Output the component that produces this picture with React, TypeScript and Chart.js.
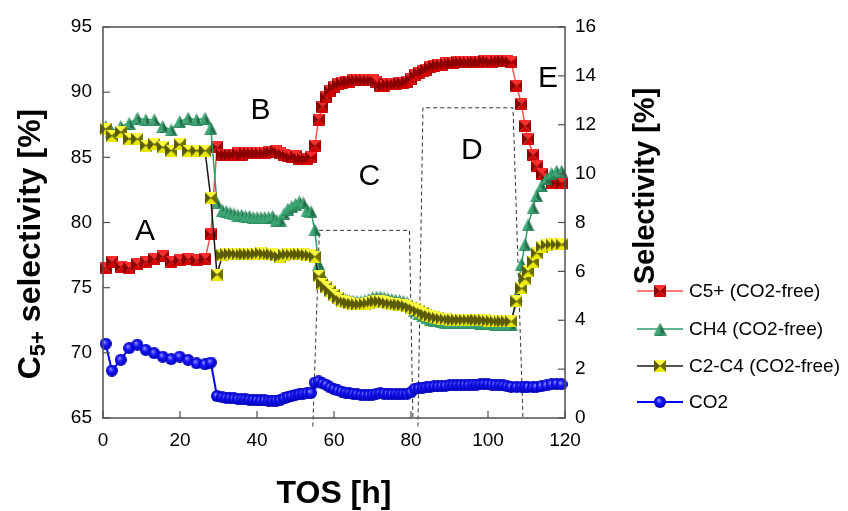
import React, { useEffect, useRef } from "react";
import { Chart, registerables } from "chart.js";
Chart.register(...registerables);

const FONT = "'Liberation Sans', Arial, sans-serif";

// time on stream [h]
const tos = [
  0.7, 2.3, 4.6, 6.8, 8.9, 11.1, 13.3, 15.5, 17.7, 19.9, 22.1, 24.3, 26.5, 28.0,
  29.6, 31, 32, 33, 34, 35, 36, 37, 38, 39, 40, 41, 42, 43, 44, 45, 46, 47, 48, 49, 50, 51, 52, 53, 54, 55,
  56, 57, 58, 59, 60, 61, 62, 63, 64, 65,
  66, 67, 68, 69, 70, 71, 72, 73, 74, 75,
  76, 77, 78, 79, 80, 81, 82, 83, 84, 85,
  86, 87, 88, 89, 90, 91, 92, 93, 94, 95,
  96, 97, 98, 99, 100, 101, 102, 103, 104, 105, 106,
  107.4, 108.7, 109.6, 110.4, 111.7, 112.6, 113.9, 115.2, 116.5, 117.8, 119.1,
];

// left axis [%]
const c5plus = [
  76.5, 77.0, 76.6, 76.5, 76.8, 77.0, 77.2, 77.4, 77.0, 77.1, 77.2, 77.1, 77.2, 79.1,
  85.8, 85.2, 85.2, 85.2, 85.2, 85.3, 85.2, 85.3, 85.3, 85.3, 85.3, 85.3, 85.3, 85.4, 85.4, 85.5, 85.3, 85.2, 85.1, 85.0, 85.1, 84.9, 84.9, 84.9, 85.0, 85.9,
  87.9, 88.9, 89.6, 90.1, 90.4, 90.6, 90.7, 90.8, 90.8, 90.9,
  90.9, 90.9, 90.9, 90.9, 90.9, 90.8, 90.5, 90.5, 90.6, 90.6,
  90.6, 90.7, 90.7, 90.8, 91.0, 91.3, 91.5, 91.6, 91.7, 91.9,
  92.0, 92.1, 92.1, 92.2, 92.2, 92.2, 92.3, 92.3, 92.3, 92.3,
  92.3, 92.3, 92.3, 92.4, 92.4, 92.3, 92.4, 92.4, 92.4, 92.4, 92.3,
  90.5, 89.1, 87.4, 86.4, 85.2, 84.3, 83.7, 83.3, 83.05, 83.05, 83.0,
];

// right axis [%]
const ch4 = [
  11.93, 11.72, 11.93, 12.06, 12.27, 12.2, 12.2, 11.93, 11.79, 12.13, 12.27, 12.2, 12.27, 11.86,
  8.8, 8.5, 8.45, 8.4, 8.35, 8.3, 8.3, 8.25, 8.25, 8.2, 8.2, 8.2, 8.2, 8.2, 8.25, 8.1, 8.1, 8.35, 8.55, 8.65, 8.75, 8.85, 8.8, 8.5, 8.45, 7.7,
  6.3, 5.8, 5.5, 5.3, 5.15, 5.0, 4.9, 4.85, 4.8, 4.78,
  4.76, 4.76, 4.8, 4.85, 4.92, 4.95, 4.95, 4.92, 4.88, 4.85,
  4.82, 4.8, 4.77, 4.72, 4.62, 4.4, 4.27, 4.18, 4.1, 4.05,
  4.0, 3.97, 3.94, 3.92, 3.9, 3.9, 3.9, 3.9, 3.9, 3.9,
  3.9, 3.9, 3.88, 3.88, 3.86, 3.86, 3.84, 3.83, 3.83, 3.83, 3.83,
  5.0, 6.3, 7.1, 7.9, 8.6, 9.1, 9.5, 9.8, 10.0, 10.1, 10.1,
];

const c2c4 = [
  11.83, 11.55, 11.7, 11.42, 11.42, 11.15, 11.2, 11.08, 10.94, 11.2, 10.94, 10.94, 10.94, 9.0,
  5.87, 6.65, 6.7, 6.72, 6.72, 6.7, 6.7, 6.7, 6.7, 6.7, 6.72, 6.75, 6.72, 6.7, 6.7, 6.65, 6.6, 6.68, 6.7, 6.7, 6.7, 6.7, 6.7, 6.68, 6.65, 6.6,
  5.8, 5.5, 5.35, 5.2, 5.05, 4.9, 4.8, 4.75, 4.7, 4.68,
  4.65, 4.65, 4.68, 4.7, 4.75, 4.77, 4.77, 4.75, 4.7, 4.68,
  4.65, 4.64, 4.62, 4.58, 4.52, 4.45, 4.37, 4.3, 4.23, 4.18,
  4.13, 4.1, 4.07, 4.05, 4.03, 4.02, 4.02, 4.02, 4.02, 4.02,
  4.02, 4.02, 4.0, 4.0, 3.98, 3.98, 3.96, 3.95, 3.95, 3.95, 3.95,
  4.77, 5.3, 5.7, 6.0, 6.4, 6.75, 7.0, 7.08, 7.1, 7.1, 7.1,
];

const co2 = [
  3.04, 1.94, 2.38, 2.86, 3.0, 2.79, 2.65, 2.51, 2.41, 2.51, 2.38, 2.24, 2.2, 2.27,
  0.9, 0.85, 0.83, 0.82, 0.8, 0.78, 0.77, 0.76, 0.75, 0.74, 0.73, 0.72, 0.72, 0.71, 0.71, 0.71, 0.73, 0.8, 0.86, 0.9, 0.94, 0.97, 1.0, 1.01, 1.03, 1.45,
  1.5, 1.42, 1.36, 1.25, 1.18, 1.13, 1.08, 1.04, 1.01, 0.99,
  0.97, 0.95, 0.94, 0.94, 0.96, 0.99, 1.01, 1.0, 0.99, 0.98,
  0.97, 0.97, 0.98, 0.99, 1.05, 1.2, 1.22, 1.24, 1.26, 1.28,
  1.29, 1.3, 1.31, 1.32, 1.33, 1.34, 1.34, 1.35, 1.35, 1.36,
  1.37, 1.37, 1.38, 1.39, 1.38, 1.37, 1.36, 1.35, 1.33, 1.3, 1.28,
  1.27, 1.28, 1.28, 1.27, 1.27, 1.27, 1.3, 1.33, 1.38, 1.4, 1.38,
];

const seriesLabels = ["C5+ (CO2-free)", "CH4 (CO2-free)", "C2-C4 (CO2-free)", "CO2"];
const xTicksStep = 20;
const leftRange = [65, 95];
const rightRange = [0, 16];

// region annotations (x in h, y on left axis)
const regionLabels = ["A", "B", "C", "D", "E"];
const regionX = [10.9, 40.9, 69.2, 95.8, 115.6];
const regionY = [79.3, 88.6, 83.5, 85.5, 91.0];
// dashed boxes: [bottom-left, top-left, top-right, bottom-right] in (h, left-axis %)
const boxC = [[54.5, 64.35], [56.2, 79.4], [79.6, 79.4], [80.5, 64.85]];
const boxD = [[81.8, 64.35], [83.1, 88.8], [106.5, 88.8], [109.1, 64.85]];

function makeSquare(top: string, bottom: string, side: string, side2: string, s = 12) {
  const c = document.createElement("canvas");
  c.width = s; c.height = s;
  const g = c.getContext("2d")!;
  const m = s / 2;
  const tri = (pts: number[][], col: string) => {
    g.fillStyle = col; g.beginPath();
    g.moveTo(pts[0][0], pts[0][1]); g.lineTo(pts[1][0], pts[1][1]); g.lineTo(pts[2][0], pts[2][1]);
    g.closePath(); g.fill();
  };
  tri([[0, 0], [s, 0], [m, m]], top);
  tri([[0, s], [s, s], [m, m]], bottom);
  tri([[0, 0], [0, s], [m, m]], side);
  tri([[s, 0], [s, s], [m, m]], side2);
  return c;
}
function makeTriangle(s = 13) {
  const c = document.createElement("canvas");
  c.width = s; c.height = s;
  const g = c.getContext("2d")!;
  const m = s / 2;
  g.fillStyle = "#3aa673"; g.beginPath(); g.moveTo(m, 0); g.lineTo(0, s); g.lineTo(m, s * 0.8); g.closePath(); g.fill();
  g.fillStyle = "#1f6e48"; g.beginPath(); g.moveTo(m, 0); g.lineTo(s, s); g.lineTo(m, s * 0.8); g.closePath(); g.fill();
  g.fillStyle = "#2a8a5c"; g.beginPath(); g.moveTo(0, s); g.lineTo(s, s); g.lineTo(m, s * 0.8); g.closePath(); g.fill();
  return c;
}
function makeCircle(s = 12) {
  const c = document.createElement("canvas");
  c.width = s; c.height = s;
  const g = c.getContext("2d")!;
  const grd = g.createRadialGradient(s * 0.38, s * 0.35, 0.5, s / 2, s / 2, s / 2);
  grd.addColorStop(0, "#8a8aff");
  grd.addColorStop(0.4, "#1a1aff");
  grd.addColorStop(1, "#0000b0");
  g.fillStyle = grd; g.beginPath(); g.arc(s / 2, s / 2, s / 2, 0, Math.PI * 2); g.fill();
  return c;
}

export default function App() {
  const ref = useRef<HTMLCanvasElement>(null);
  useEffect(() => {
    const redM = makeSquare("#ff2a2a", "#d40000", "#8a0000", "#a00000");
    const greenM = makeTriangle();
    const yellowM = makeSquare("#ffff40", "#e8e800", "#5a5a00", "#707000");
    const blueM = makeCircle();
    const markers = [redM, greenM, yellowM, blueM];
    const lineColors = ["#ff5050", "#2e9a6a", "#1a1a1a", "#0000ff"];
    const values = [c5plus, ch4, c2c4, co2];
    const axes = ["y", "y1", "y1", "y1"];
    const orders = [3, 2, 1, 4];

    const datasets = values.map((vals, i) => ({
      label: seriesLabels[i],
      data: tos.map((t, j) => ({ x: t, y: vals[j] })),
      yAxisID: axes[i],
      borderColor: lineColors[i],
      borderWidth: i === 3 ? 2 : 1.5,
      pointStyle: markers[i],
      pointRadius: 6,
      tension: 0,
      clip: false as any,
      order: orders[i],
    }));

    const custom = {
      id: "custom",
      beforeDatasetsDraw(chart: any) {
        const { ctx, scales } = chart;
        const x = scales.x, y = scales.y;
        ctx.save();
        ctx.strokeStyle = "#333";
        ctx.lineWidth = 1;
        ctx.setLineDash([4, 3]);
        [boxC, boxD].forEach((b) => {
          ctx.beginPath();
          b.forEach((p, k) => {
            const px = x.getPixelForValue(p[0]);
            const py = y.getPixelForValue(p[1]);
            if (k === 0) ctx.moveTo(px, py); else ctx.lineTo(px, py);
          });
          ctx.stroke();
        });
        ctx.setLineDash([]);
        ctx.fillStyle = "#000";
        ctx.font = `30px ${FONT}`;
        ctx.textAlign = "center";
        ctx.textBaseline = "middle";
        regionLabels.forEach((l, k) => {
          ctx.fillText(l, x.getPixelForValue(regionX[k]), y.getPixelForValue(regionY[k]));
        });
        ctx.restore();
      },
      afterDraw(chart: any) {
        const { ctx, chartArea: ca, scales } = chart;
        const x = scales.x, y = scales.y, y1 = scales.y1;
        ctx.save();
        ctx.strokeStyle = "#505050";
        ctx.lineWidth = 1.5;
        ctx.strokeRect(ca.left, ca.top, ca.right - ca.left, ca.bottom - ca.top);
        ctx.lineWidth = 1.2;
        const ln = (a: number, b: number, c: number, d: number) => {
          ctx.beginPath(); ctx.moveTo(a, b); ctx.lineTo(c, d); ctx.stroke();
        };
        x.ticks.forEach((t: any) => { const p = x.getPixelForValue(t.value); ln(p, ca.bottom, p, ca.bottom - 7); });
        y.ticks.forEach((t: any) => { const p = y.getPixelForValue(t.value); ln(ca.left, p, ca.left + 7, p); });
        y1.ticks.forEach((t: any) => { const p = y1.getPixelForValue(t.value); ln(ca.right, p, ca.right - 7, p); });

        // axis titles
        ctx.fillStyle = "#000";
        ctx.textBaseline = "middle";
        ctx.textAlign = "center";
        ctx.font = `bold 32px ${FONT}`;
        ctx.fillText("TOS [h]", 334, 494);

        ctx.save();
        ctx.translate(646, 186);
        ctx.rotate(-Math.PI / 2);
        ctx.font = `bold 29px ${FONT}`;
        ctx.fillText("Selectivity [%]", 0, 0);
        ctx.restore();

        ctx.save();
        ctx.translate(31, 244);
        ctx.rotate(-Math.PI / 2);
        ctx.textAlign = "left";
        const big = `bold 32px ${FONT}`;
        const small = `bold 22px ${FONT}`;
        ctx.font = big;
        const wC = ctx.measureText("C").width;
        const rest = " selectivity [%]";
        const wR = ctx.measureText(rest).width;
        ctx.font = small;
        const wS = ctx.measureText("5+").width;
        const total = wC + wS + wR;
        let cx = -total / 2;
        ctx.font = big;
        ctx.fillText("C", cx, 0);
        cx += wC;
        ctx.font = small;
        ctx.fillText("5+", cx, 8);
        cx += wS;
        ctx.font = big;
        ctx.fillText(rest, cx, 0);
        ctx.restore();

        // legend
        const rows = [291, 329, 366, 402];
        ctx.font = `19px ${FONT}`;
        ctx.textAlign = "left";
        rows.forEach((ry, k) => {
          ctx.strokeStyle = lineColors[k];
          ctx.lineWidth = k === 3 ? 2 : 1.5;
          ln(637, ry, 683, ry);
          const m = markers[k];
          ctx.drawImage(m, 660 - m.width / 2, ry - m.height / 2);
          ctx.fillStyle = "#000";
          ctx.fillText(seriesLabels[k], 689, ry + 1);
        });
        ctx.restore();
      },
    };

    const tickFont = { size: 19, family: FONT };
    const chart = new Chart(ref.current!, {
      type: "line",
      data: { datasets: datasets as any },
      options: {
        animation: false,
        responsive: false,
        maintainAspectRatio: false,
        layout: { padding: { top: 27, left: 0, right: 0, bottom: 0 } },
        plugins: { legend: { display: false }, tooltip: { enabled: false } },
        scales: {
          x: {
            type: "linear", min: 0, max: 120,
            ticks: { stepSize: xTicksStep, font: tickFont, color: "#000", padding: 11 },
            grid: { display: false, drawTicks: false },
            border: { display: false },
            afterFit: (s: any) => { s.height = 93; },
          },
          y: {
            type: "linear", position: "left", min: leftRange[0], max: leftRange[1],
            ticks: { stepSize: 5, font: tickFont, color: "#000", padding: 11 },
            grid: { display: false, drawTicks: false },
            border: { display: false },
            afterFit: (s: any) => { s.width = 103; },
          },
          y1: {
            type: "linear", position: "right", min: rightRange[0], max: rightRange[1],
            ticks: { stepSize: 2, font: tickFont, color: "#000", padding: 10 },
            grid: { display: false, drawTicks: false },
            border: { display: false },
            afterFit: (s: any) => { s.width = 283; },
          },
        },
      } as any,
      plugins: [custom],
    });
    return () => chart.destroy();
  }, []);

  return (
    <div style={{ position: "fixed", left: 0, top: 0, width: 848, height: 511, background: "#fff" }}>
      <canvas ref={ref} width={848} height={511} style={{ width: 848, height: 511 }} />
    </div>
  );
}
